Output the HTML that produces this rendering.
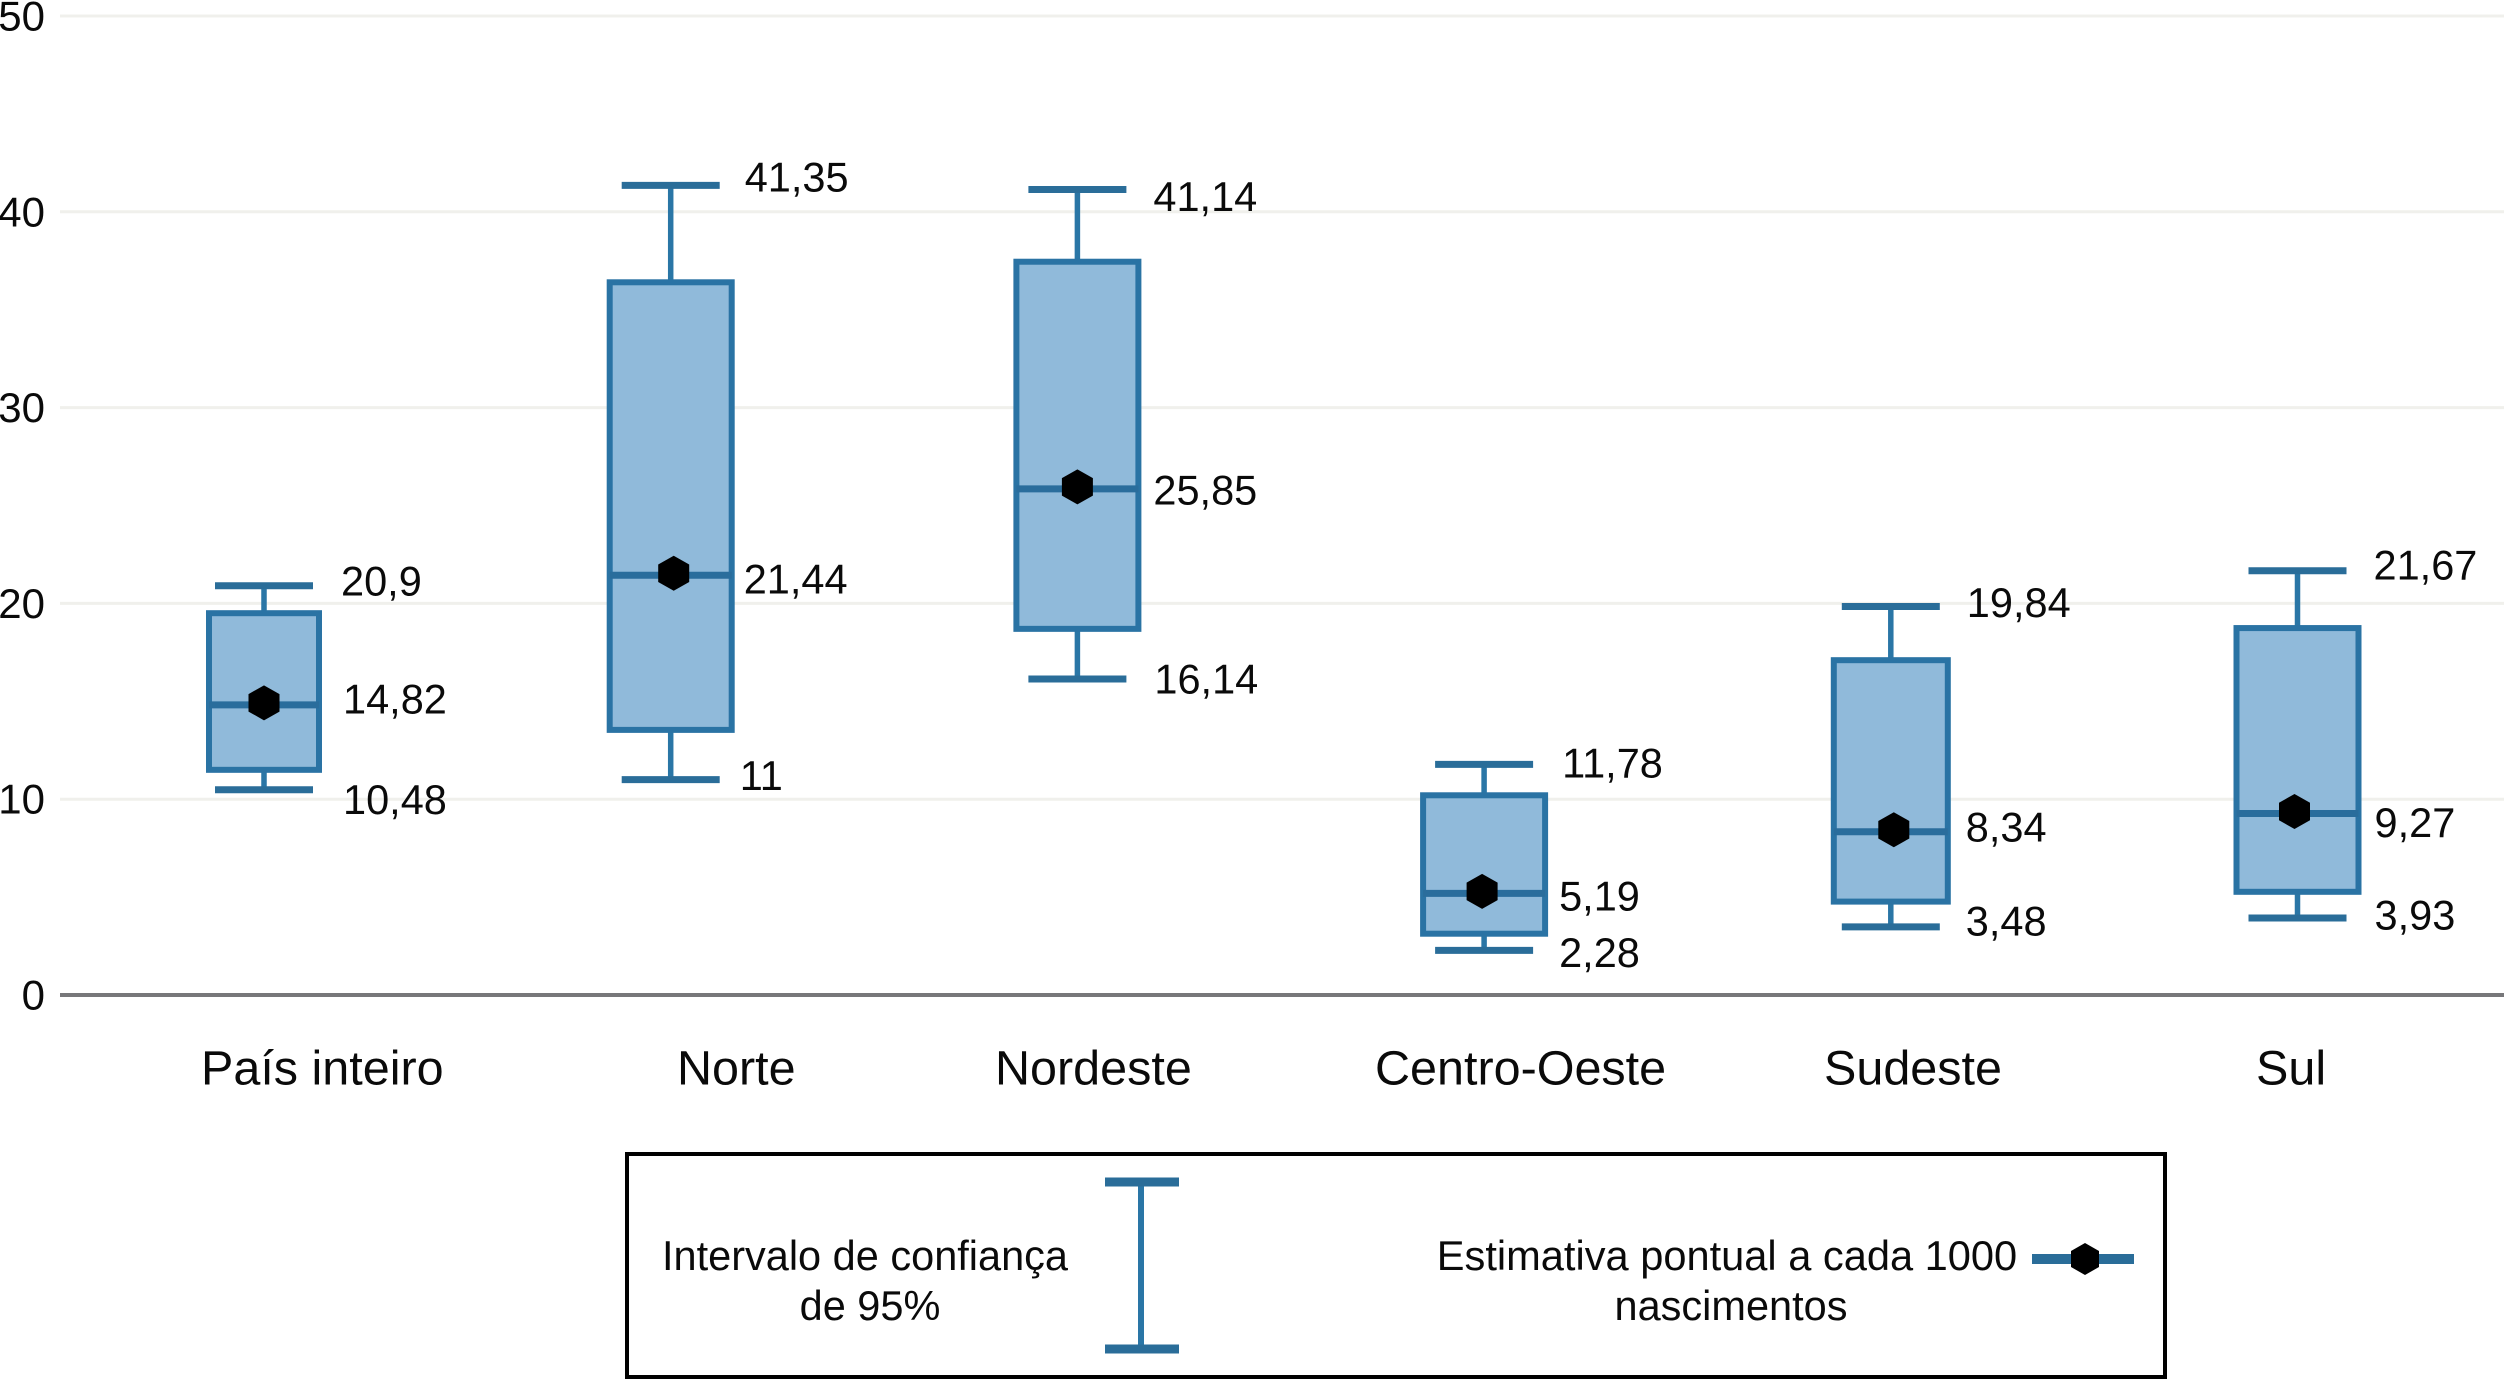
<!DOCTYPE html>
<html lang="pt">
<head>
<meta charset="utf-8">
<title>Estimativa pontual a cada 1000 nascimentos por região</title>
<style>
html,body{margin:0;padding:0;background:#fff;width:2504px;height:1379px;overflow:hidden}
svg{display:block}
text{font-family:"Liberation Sans",Arial,sans-serif;fill:#0a0a0a}
</style>
</head>
<body>
<svg id="chart" xmlns="http://www.w3.org/2000/svg" width="2504" height="1379" viewBox="0 0 2504 1379">
  <rect x="0" y="0" width="2504" height="1379" fill="#ffffff"/>
  <g id="grid"></g>
  <g id="yticks"></g>
  <g id="boxes"></g>
  <g id="xlabels"></g>
  <g>
    <rect x="627" y="1154" width="1538" height="223" fill="#ffffff" stroke="#000000" stroke-width="4"/>
    <text x="865" y="1270" font-size="41.500" text-anchor="middle">Intervalo de confiança</text>
    <text x="870" y="1320" font-size="41.500" text-anchor="middle">de 95%</text>
    <line x1="1141" y1="1182" x2="1141" y2="1349" stroke="#2a76a6" stroke-width="6"/>
    <line x1="1105" y1="1182" x2="1179" y2="1182" stroke="#2a6d99" stroke-width="9"/>
    <line x1="1105" y1="1349" x2="1179" y2="1349" stroke="#2a6d99" stroke-width="9"/>
    <text x="1727" y="1270" font-size="41.600" text-anchor="middle">Estimativa pontual a cada 1000</text>
    <text x="1731" y="1320" font-size="41.500" text-anchor="middle">nascimentos</text>
    <line x1="2032" y1="1259" x2="2134" y2="1259" stroke="#2a6d99" stroke-width="10"/>
    <polygon points="2085,1243 2099,1251 2099,1267 2085,1275 2071,1267 2071,1251" fill="#000000"/>
  </g>
</svg>
<script>
const categories = ["País inteiro", "Norte", "Nordeste", "Centro-Oeste", "Sudeste", "Sul"];
const upperCI = [20.9, 41.35, 41.14, 11.78, 19.84, 21.67];
const boxTop = [19.5, 36.4, 37.45, 10.2, 17.1, 18.74];
const estimates = [14.82, 21.44, 25.85, 5.19, 8.34, 9.27];
const boxBottom = [11.5, 13.54, 18.7, 3.13, 4.77, 5.27];
const lowerCI = [10.48, 11, 16.14, 2.28, 3.48, 3.93];
const yTicks = [0, 10, 20, 30, 40, 50];

const svgNS = "http://www.w3.org/2000/svg";
function yScale(v) { return 995 - v * 19.58; }
function xScale(i) { return 264 + i * 406.7; }
function fmt(v) { return String(v).replace(".", ","); }
function make(parent, tag, attrs, content) {
  const el = document.createElementNS(svgNS, tag);
  for (const k in attrs) el.setAttribute(k, attrs[k]);
  if (content !== undefined) el.textContent = content;
  parent.appendChild(el);
  return el;
}

function drawChart() {
  const grid = document.getElementById("grid");
  const yticks = document.getElementById("yticks");
  const boxes = document.getElementById("boxes");
  const xlabels = document.getElementById("xlabels");
  const boxHalf = [55, 61, 61, 61, 57, 61];
  const markerDx = [0, 3, 0, -2, 3, -3];
  const catX = [201, 677, 995, 1375, 1824, 2256];
  const upperPlace = [[77, 9.5], [74, 6], [76, 21.5], [78, 13], [76, 10.5], [76, 9]];
  const midPlace = [[79, 8.5], [73, 18.5], [76, 15.5], [75, 17], [75, 10], [77, 23.5]];
  const lowerPlace = [[79, 24], [69, 10.5], [77, 14.5], [75, 16.5], [75, 8.5], [77, 11.5]];

  yTicks.forEach(function (t) {
    const y = yScale(t);
    const line = make(grid, "line", { x1: 60, x2: 2504, y1: y, y2: y, stroke: t === 0 ? "#77777a" : "#f0f0ec", "stroke-width": t === 0 ? 4 : 3 });
    
    
    const label = make(yticks, "text", { x: 45, y: y + 14.5, "font-size": 42, "text-anchor": "end" }, String(t));
    
    
  });

  categories.forEach(function (name, i) {
    const cx = xScale(i);
    const group = make(boxes, "g", {});
    
    

    const stem = make(group, "line", { x1: cx, x2: cx, y1: yScale(upperCI[i]), y2: yScale(lowerCI[i]), stroke: "#2a76a6", "stroke-width": 5.5 });
    
    

    const capTop = make(group, "line", { x1: cx - 49, x2: cx + 49, y1: yScale(upperCI[i]), y2: yScale(upperCI[i]), stroke: "#2a6d99", "stroke-width": 7 });
    
    

    const capBottom = make(group, "line", { x1: cx - 49, x2: cx + 49, y1: yScale(lowerCI[i]), y2: yScale(lowerCI[i]), stroke: "#2a6d99", "stroke-width": 7 });
    
    

    const box = make(group, "rect", { x: cx - boxHalf[i], width: boxHalf[i] * 2, y: yScale(boxTop[i]), height: yScale(boxBottom[i]) - yScale(boxTop[i]), fill: "#90bada", stroke: "#2a73a4", "stroke-width": 6 });
    
    

    const median = make(group, "line", { x1: cx - boxHalf[i], x2: cx + boxHalf[i], y1: yScale(estimates[i]), y2: yScale(estimates[i]), stroke: "#2a6d9c", "stroke-width": 7 });
    
    

    const mx = cx + markerDx[i];
    const my = yScale(estimates[i]) - 2;
    const r = 17.5;
    const w = 15.5;
    const pts = [[mx, my - r], [mx + w, my - r / 2], [mx + w, my + r / 2], [mx, my + r], [mx - w, my + r / 2], [mx - w, my - r / 2]]
      .map(function (p) { return p.join(","); }).join(" ");
    const marker = make(group, "polygon", { points: pts, fill: "#000000" });
    
    

    const upperText = make(group, "text", { x: cx + upperPlace[i][0], y: yScale(upperCI[i]) + upperPlace[i][1], "font-size": 41.5 }, fmt(upperCI[i]));
    
    

    const midText = make(group, "text", { x: cx + midPlace[i][0], y: yScale(estimates[i]) + midPlace[i][1], "font-size": 41.5 }, fmt(estimates[i]));
    
    

    const lowerText = make(group, "text", { x: cx + lowerPlace[i][0], y: yScale(lowerCI[i]) + lowerPlace[i][1], "font-size": 41.5 }, fmt(lowerCI[i]));
    
    

    const cat = make(xlabels, "text", { x: catX[i], y: 1084.5, "font-size": 48.5 }, name);
    
    
  });
}
drawChart();
</script>
</body>
</html>
